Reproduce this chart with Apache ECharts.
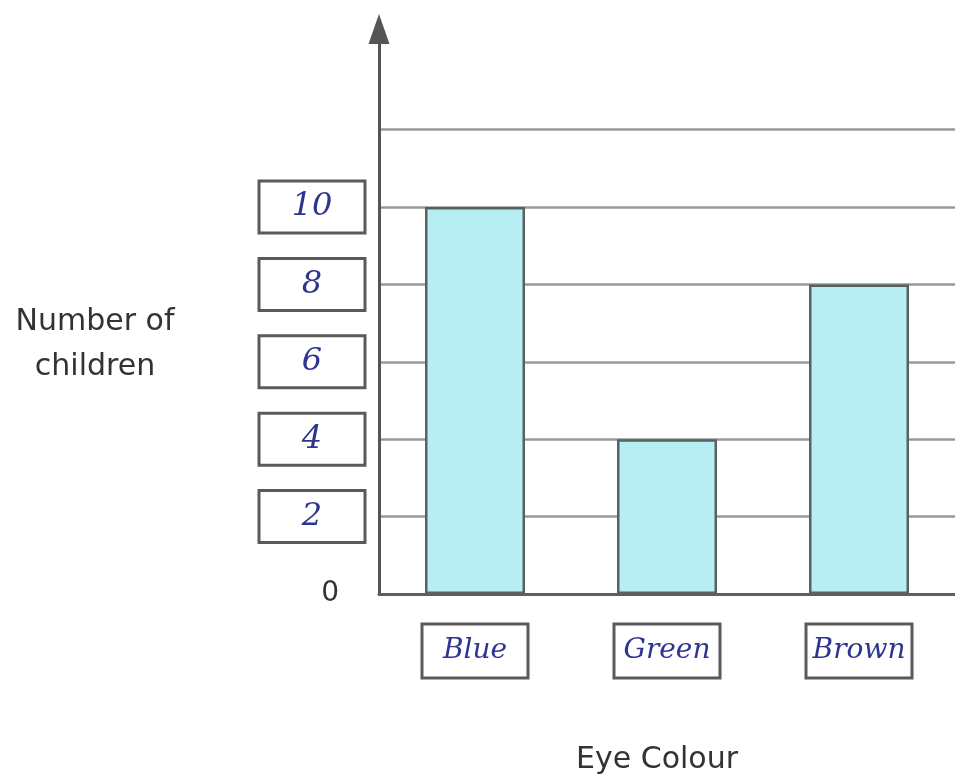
<!DOCTYPE html>
<html>
<head>
<meta charset="utf-8">
<script src="https://cdn.jsdelivr.net/npm/echarts@6/dist/echarts.min.js"></script>
<style>html,body{margin:0;padding:0;background:#fff}#c{width:955px;height:784px}</style>
</head>
<body>
<div id="c"></div>
<script>
const categories = ['Blue', 'Green', 'Brown'];
const childrenCounts = [10, 4, 8];
const yTickLabels = [2, 4, 6, 8, 10];
const yAxisTitle = 'Number of\nchildren';
const xAxisTitle = 'Eye Colour';

const ink = '#2d3590';
const hand = 'DejaVu Serif';
const plain = 'DejaVu Sans';
const grey = '#9a9a9a';

const chart = echarts.init(document.getElementById('c'));
chart.setOption({
  backgroundColor: '#fff',
  animation: false,
  grid: { left: 379, right: 0, top: 29, bottom: 190, containLabel: false },
  xAxis: {
    type: 'category',
    data: categories,
    axisLine: { lineStyle: { color: '#5e5e5e', width: 3 } },
    axisTick: { show: false },
    axisLabel: {
      margin: 30,
      formatter: v => '{b|' + v + '}',
      rich: {
        b: {
          width: 106, height: 54, align: 'center', verticalAlign: 'middle',
          borderColor: '#5a5a5a', borderWidth: 3,
          fontFamily: hand, fontStyle: 'italic', fontSize: 28, color: ink
        }
      }
    }
  },
  yAxis: {
    type: 'value',
    min: 0, max: 14.6, interval: 2,
    axisLine: { show: true, symbol: ['none', 'triangle'], symbolSize: [21, 30], lineStyle: { color: '#555', width: 3 } },
    axisTick: { show: false },
    splitLine: {
      show: true,
      lineStyle: { width: 2.5, color: ['rgba(0,0,0,0)', grey, grey, grey, grey, grey, grey, 'rgba(0,0,0,0)', 'rgba(0,0,0,0)'] }
    },
    axisLabel: {
      margin: 14,
      formatter: v => v === 0 ? '{z|0}' : (yTickLabels.indexOf(v) >= 0 ? '{b|' + v + '}' : ''),
      rich: {
        b: {
          width: 106, height: 52, align: 'center', verticalAlign: 'middle',
          borderColor: '#5a5a5a', borderWidth: 3,
          fontFamily: hand, fontStyle: 'italic', fontSize: 32, color: ink
        },
        z: { fontFamily: plain, fontSize: 28, color: '#333', padding: [0, 26, 0, 0] }
      }
    }
  },
  graphic: [
    { type: 'text', x: 95, y: 345, style: { text: yAxisTitle, font: '30px "DejaVu Sans"', fill: '#333', textAlign: 'center', textVerticalAlign: 'middle', lineHeight: 45 } },
    { type: 'text', x: 657, y: 760, style: { text: xAxisTitle, font: '30px "DejaVu Sans"', fill: '#333', textAlign: 'center', textVerticalAlign: 'middle' } }
  ],
  series: [{
    type: 'bar',
    data: childrenCounts,
    barWidth: 100,
    itemStyle: { color: '#b6eef4', borderColor: '#596262', borderWidth: 2.5 }
  }]
});
</script>
</body>
</html>
